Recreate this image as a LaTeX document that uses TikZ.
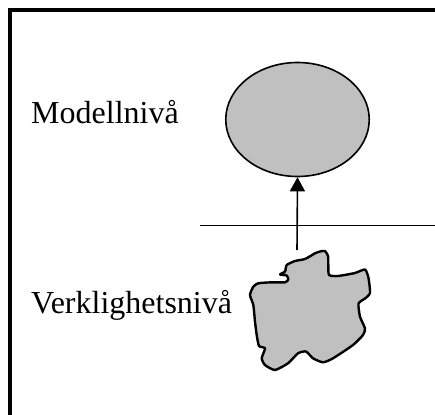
\documentclass[tikz,border=0pt]{standalone}
\usepackage{fontspec}
\setmainfont{Liberation Serif}
\usetikzlibrary{shapes.geometric,arrows.meta}
\definecolor{shade}{HTML}{C0C0C0}
\tikzset{
  levellabel/.style={anchor=base west, inner sep=0pt, font=\fontsize{32}{36}\selectfont},
  modelshape/.style={ellipse, draw, fill=shade, line width=1.6pt,
    minimum width=143.5pt, minimum height=114pt, inner sep=0pt},
  realshape/.style={draw, fill=shade, line width=2.4pt, line join=round},
  liftarrow/.style={line width=1.6pt, -{Triangle[width=15pt,length=14pt]}},
  divider/.style={line width=1.6pt},
  frame/.style={line width=4pt}
}
\begin{document}
\begin{tikzpicture}[x=1pt,y=-1pt]
  \path[use as bounding box, clip] (0,0) rectangle (435,414);
  % outer frame, open towards right and bottom
  \draw[frame] (9.8,430) -- (9.8,10.5) -- (450,10.5);
  % level labels
  \node[levellabel] (modtxt) at (31,123.5) {Modellnivå};
  \node[levellabel] (realtxt) at (31,313) {Verklighetsnivå};
  % model level: ellipse
  \node[modelshape] (model) at (297.5,119.5) {};
  % border between the two levels
  \coordinate (divl) at (200,225.5);
  \coordinate (divr) at (440,225.5);
  \draw[divider] (divl) -- (divr);
  % reality level: irregular blob
  \draw[realshape] plot[smooth cycle, tension=0.35] coordinates {
    (320,251.5) (325,251) (328,256) (328.3,265) (329,275) (338,276)
    (355,273) (365,269.5) (368.5,278) (370,293) (365,298.5) (358.5,303.5)
    (360,316.7) (365,328.5) (363,335) (353,345) (333,358.3) (323,362.3)
    (313,358.3) (306,351.5) (298,353.3) (288,363.3) (275,370) (265,365)
    (261.7,358.3) (265,348.3) (259,346) (256.7,335) (255,321.7) (253.3,305)
    (250,295) (253.3,286.7) (258.3,283.3) (271.7,282.3) (285,282.3)
    (288.3,279.5) (286.7,275.5) (280,274.5) (285,271.5) (286.7,265)
    (295,261) (305,259) (315,253.3)};
  \coordinate (reality) at (297,250);
  % abstraction arrow
  \draw[liftarrow] (reality) -- (model.south);
\end{tikzpicture}
\end{document}
